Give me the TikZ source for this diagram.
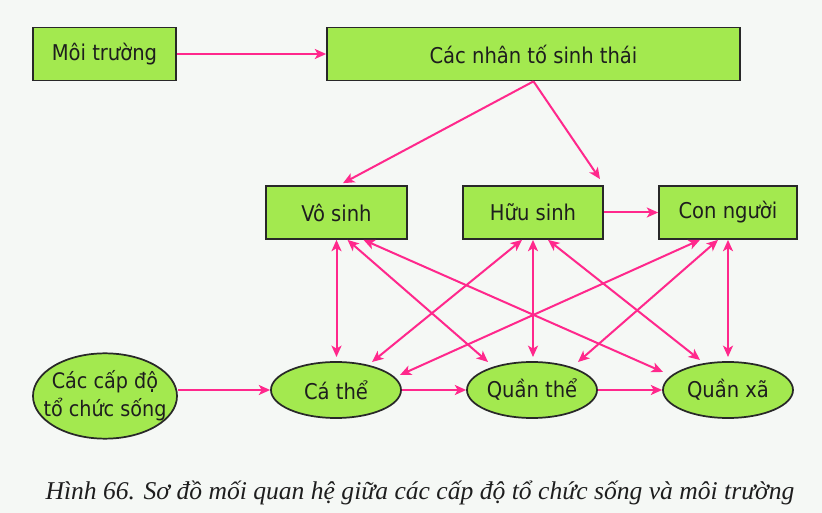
\documentclass[tikz,border=0pt]{standalone}
\usepackage{fontspec}
\setmainfont{DejaVu Sans Condensed}
\newfontfamily\capfont{Liberation Serif}
\usetikzlibrary{arrows.meta,calc,shapes.geometric}
\definecolor{bg}{RGB}{245,248,245}
\definecolor{boxfill}{RGB}{163,233,79}
\definecolor{boxline}{RGB}{40,40,40}
\definecolor{arr}{RGB}{255,40,140}
\definecolor{txt}{RGB}{30,30,30}
\begin{document}
\begin{tikzpicture}[x=0.75pt,y=-0.75pt,
  lbl/.style={font=\fontsize{16.3}{19}\selectfont,text=txt},
  box/.style={lbl,draw=boxline,line width=1.3pt,fill=boxfill,rectangle,inner sep=0pt,minimum height=39.75pt},
  oval/.style={lbl,draw=boxline,line width=1.3pt,fill=boxfill,ellipse,inner sep=0pt,minimum width=97.5pt,minimum height=42pt},
  tip/.tip={Stealth[length=8.5pt,width=7.5pt,inset=2.2pt]},
  link/.style={draw=arr,line width=1.5pt,-tip},
  dlink/.style={draw=arr,line width=1.5pt,tip-tip}]
\fill[bg] (0,0) rectangle (822,513);
\useasboundingbox (0,0) rectangle (822,513);

\node[box,minimum width=107.25pt] (moi) at (104.5,54) {Môi trường};
\node[box,minimum width=309.75pt] (nhanto) at (533.5,54) {Các nhân tố sinh thái};
\node[box,minimum width=105.75pt] (vosinh) at (336.5,212.5) {Vô sinh};
\node[box,minimum width=105pt] (huusinh) at (533,212.5) {Hữu sinh};
\node[box,minimum width=103.5pt] (connguoi) at (728,212.5) {Con người};

\node[oval,minimum width=108pt,minimum height=64pt,inner xsep=-10pt,align=center,font=\fontsize{16}{21}\selectfont] (capdo) at (105,396) {Các cấp độ\\tổ chức sống};
\node[oval] (cathe) at (336,390) {Cá thể};
\node[oval] (quanthe) at (532,390) {Quần thể};
\node[oval] (quanxa) at (728,390) {Quần xã};

\node[font=\capfont\itshape\fontsize{19.2}{22}\selectfont,text=txt] (cap) at (420,493) {Hình 66. Sơ đồ mối quan hệ giữa các cấp độ tổ chức sống và môi trường};

% top arrows
\draw[link] (moi.east) -- (nhanto.west);
\draw[link] (nhanto.south) -- ($(vosinh.north)+(6.5,-2)$);
\draw[link] (nhanto.south) -- ($(huusinh.north)+(67,-6)$);
\draw[link] (huusinh.east) -- (connguoi.west);

% bottom arrows
\draw[link] (capdo.east |- cathe.west) -- (cathe.west);
\draw[link] (cathe.east) -- (quanthe.west);
\draw[link] (quanthe.east) -- (quanxa.west);

% verticals
\draw[dlink] (vosinh.south) -- ($(cathe.center)+(0.5,-33)$);
\draw[dlink] (huusinh.south) -- ($(quanthe.center)+(1,-33)$);
\draw[dlink] (connguoi.south) -- ($(quanxa.center)+(0,-33)$);

% diagonals
\draw[dlink] ($(vosinh.south)+(11,0)$) -- ($(quanthe.center)+(-44,-28)$);
\draw[dlink] ($(vosinh.south)+(27,0)$) -- ($(quanxa.center)+(-65,-18)$);
\draw[dlink] ($(huusinh.south)+(-11,0)$) -- ($(cathe.center)+(36,-28)$);
\draw[dlink] ($(huusinh.south)+(15,0)$) -- ($(quanxa.center)+(-28,-30)$);
\draw[dlink] ($(connguoi.south)+(-28,0)$) -- ($(cathe.center)+(64,-15)$);
\draw[dlink] ($(connguoi.south)+(-10,0)$) -- ($(quanthe.center)+(46,-28)$);
\end{tikzpicture}
\end{document}
